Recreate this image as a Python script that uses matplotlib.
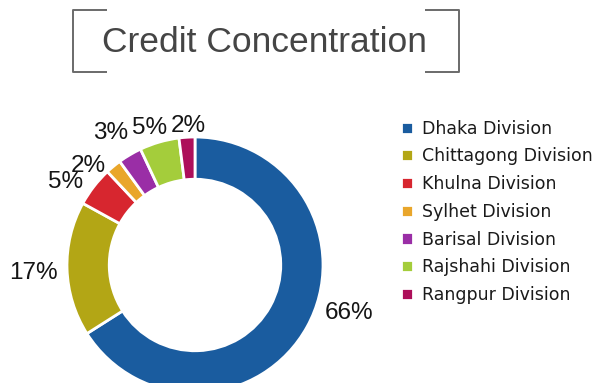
import matplotlib.pyplot as plt
import numpy as np
from matplotlib.lines import Line2D


DIVISIONS = [
    "Dhaka Division",
    "Chittagong Division",
    "Khulna Division",
    "Sylhet Division",
    "Barisal Division",
    "Rajshahi Division",
    "Rangpur Division",
]
SHARES = [66, 17, 5, 2, 3, 5, 2]
COLORS = ["#1a5c9f", "#b3a615", "#d7262f", "#e9a62b", "#9a2ea6", "#a4cd3b", "#ad0f5a"]

# per-slice label placement: radius (in ring radii) and angular nudge in degrees
LABEL_RADIUS = [1.26, 1.26, 1.20, 1.14, 1.22, 1.13, 1.09]
LABEL_NUDGE = [11.5, 1.0, 5.3, 7.5, 2.0, 2.0, -1.0]

W, H, DPI = 597, 383, 100


def px_box(cx, cy, half):
    # axes rectangle (figure fraction) centred on a pixel position
    return [(cx - half) / W, (H - cy - half) / H, 2 * half / W, 2 * half / H]


def main() -> None:
    fig = plt.figure(figsize=(W / DPI, H / DPI), dpi=DPI)
    fig.patch.set_facecolor("white")

    # donut, centre (195, 265) px, outer radius 128 px
    half = 1.5 * 128
    ax = fig.add_axes(px_box(195, 265, half))
    wedges, _ = ax.pie(
        SHARES,
        colors=COLORS,
        startangle=90,
        counterclock=False,
        radius=1.0,
        wedgeprops=dict(width=0.33, edgecolor="white", linewidth=2),
    )
    ax.set_xlim(-1.5, 1.5)
    ax.set_ylim(-1.5, 1.5)
    ax.axis("off")

    for wedge, share, r, nudge in zip(wedges, SHARES, LABEL_RADIUS, LABEL_NUDGE):
        mid = np.deg2rad((wedge.theta1 + wedge.theta2) / 2 + nudge)
        ax.text(
            r * np.cos(mid), r * np.sin(mid), f"{share}%",
            ha="center", va="center", fontsize=17.5,
            family="Liberation Sans", color="#151515",
        )

    # title with bracket frame
    tax = fig.add_axes([0, 0, 1, 1])
    tax.set_xlim(0, W)
    tax.set_ylim(H, 0)
    tax.axis("off")
    tax.text(264, 42, "Credit Concentration", ha="center", va="center",
             fontsize=25.5, family="Liberation Sans", color="#454545")
    bracket = dict(color="#6a6a6a", linewidth=1.4, solid_capstyle="butt")
    tax.add_line(Line2D([107, 73, 73, 107], [10, 10, 72, 72], **bracket))
    tax.add_line(Line2D([425, 459, 459, 425], [10, 10, 72, 72], **bracket))

    fig.legend(
        wedges, DIVISIONS,
        loc="upper left",
        bbox_to_anchor=(392 / W, 1 - 111 / H),
        frameon=False,
        prop=dict(family="DejaVu Sans", size=12.5),
        handlelength=0.7,
        handleheight=0.7,
        handletextpad=0.5,
        labelspacing=0.56,
        borderpad=0,
        labelcolor="#1a1a1a",
    )

    fig.savefig("out.png", dpi=DPI, facecolor="white")


if __name__ == "__main__":
    main()
